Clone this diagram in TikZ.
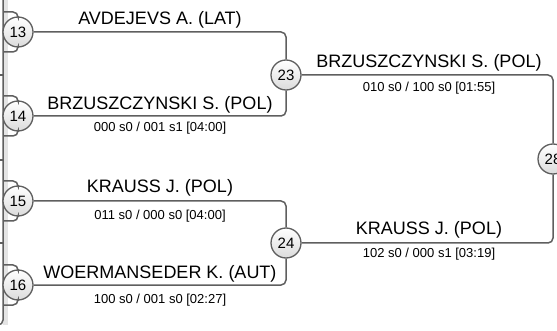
\documentclass[tikz,border=0pt]{standalone}
\usepackage{fontspec}
\setmainfont{Liberation Sans}
\usepackage{xcolor}
\usepackage{tikz}
\usetikzlibrary{backgrounds}
\usetikzlibrary{shapes,arrows,positioning}
\definecolor{lineGray}{HTML}{5F5F5F}
\definecolor{shadowGray}{HTML}{E4E4E4}
\tikzset{seed-node/.style={draw=lineGray,circle,line width=1.3pt,top color=white,bottom color=black!14,minimum size=30pt,inner sep=0pt,font=\fontsize{15}{15}\selectfont}}
\tikzset{bracket-line/.style={draw=lineGray,line width=1.5pt,rounded corners=5pt}}
\tikzset{name-label/.style={anchor=base,inner sep=0pt,font=\fontsize{18}{18}\selectfont}}
\tikzset{score-label/.style={anchor=base,inner sep=0pt,font=\fontsize{13}{13}\selectfont}}

\begin{document}
\begin{tikzpicture}[x=1pt,y=-1pt]
            \useasboundingbox (0,0) rectangle (557,331);
            \fill [shadowGray] (3,0) rectangle (8,325);
            \coordinate (left-top) at (3,-5);
            \coordinate (left-end) at (-6,325);
            \draw [bracket-line] (left-top) |- (left-end);
            \foreach \y [count=\i] in {75,160,243} {
                \coordinate (tick-a-\i) at (-6,\y);
                \coordinate (tick-b-\i) at (3,\y);
                \draw [bracket-line] (tick-a-\i) -- (tick-b-\i);
            }

            \node [seed-node] (seed-13) at (18, 32) {13};
            \node [seed-node] (seed-14) at (18,116) {14};
            \node [seed-node] (seed-15) at (18,201) {15};
            \node [seed-node] (seed-16) at (18,285) {16};
            \node [seed-node] (seed-23) at (286, 75) {23};
            \node [seed-node] (seed-24) at (286,243) {24};
            \node [seed-node] (seed-28) at (553,159) {28};

            % stubs of the round before
            \foreach \n/\y in {13/32,14/116,15/201,16/285} {
                \coordinate (prev-up-\n) at (3,\y-20);
                \coordinate (prev-down-\n) at (3,\y+20);
                \draw [bracket-line] (prev-up-\n) -| (seed-\n);
                \draw [bracket-line] (prev-down-\n) -| (seed-\n);
            }

            \draw [bracket-line] (seed-13) -| (seed-23);
            \draw [bracket-line] (seed-14) -| (seed-23);
            \draw [bracket-line] (seed-15) -| (seed-24);
            \draw [bracket-line] (seed-16) -| (seed-24);
            \draw [bracket-line] (seed-23) -| (seed-28);
            \draw [bracket-line] (seed-24) -| (seed-28);

            \node [name-label] (name-13) at (160, 25) {AVDEJEVS A. (LAT)};
            \node [name-label] (name-14) at (160,110) {BRZUSZCZYNSKI S. (POL)};
            \node [score-label] (score-14) at (160,132) {000 s0 / 001 s1 [04:00]};
            \node [name-label] (name-15) at (160,193) {KRAUSS J. (POL)};
            \node [score-label] (score-15) at (160,220) {011 s0 / 000 s0 [04:00]};
            \node [name-label] (name-16) at (160,278) {WOERMANSEDER K. (AUT)};
            \node [score-label] (score-16) at (160,303) {100 s0 / 001 s0 [02:27]};
            \node [name-label] (name-23) at (429, 68) {BRZUSZCZYNSKI S. (POL)};
            \node [score-label] (score-23) at (429, 92) {010 s0 / 100 s0 [01:55]};
            \node [name-label] (name-24) at (429,235) {KRAUSS J. (POL)};
            \node [score-label] (score-24) at (429,258) {102 s0 / 000 s1 [03:19]};
        \end{tikzpicture}
\end{document}
